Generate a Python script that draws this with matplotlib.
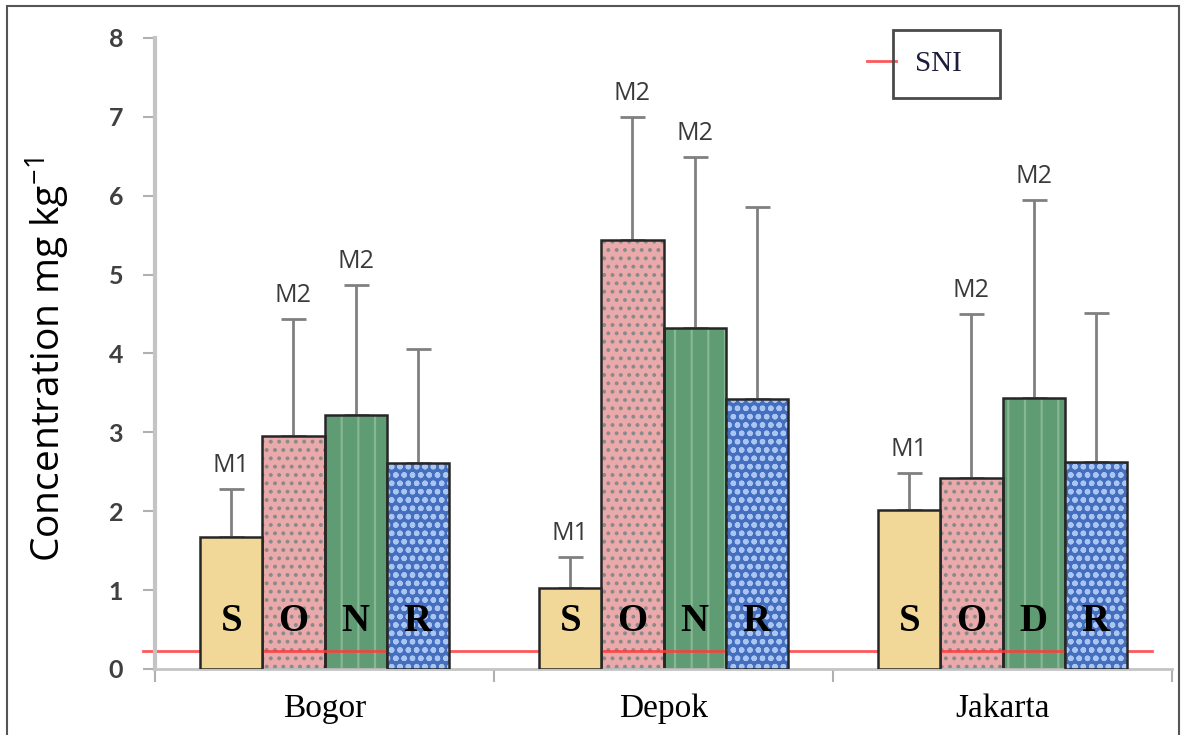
import matplotlib
matplotlib.use("Agg")
import matplotlib.pyplot as plt
import numpy as np
from matplotlib.patches import Rectangle

# Data (mg kg-1)
cities = ["Bogor", "Depok", "Jakarta"]
s_vals = [1.67, 1.03, 2.02]
s_err = [0.61, 0.39, 0.46]
o_vals = [2.95, 5.44, 2.42]
o_err = [1.49, 1.56, 2.08]
n_vals = [3.22, 4.32, 3.43]
n_err = [1.65, 2.17, 2.51]
r_vals = [2.61, 3.42, 2.62]
r_err = [1.45, 2.44, 1.89]
sni_limit = 0.23

# Letters written inside the bars and the labels above the error bars
bar_letters = [["S", "O", "N", "R"], ["S", "O", "N", "R"], ["S", "O", "D", "R"]]
method_labels = ["M1", "M2", "M2", ""]

series = [
    # values, errors, face colour, hatch, hatch colour, zorder
    (s_vals, s_err, "#f1d899", "", "#e3c887", 3),
    (o_vals, o_err, "#eaa9aa", "..", "#8a8a8a", 2),
    (n_vals, n_err, "#5f9b73", "|", "#86b894", 2),
    (r_vals, r_err, "#456fbe", "oo", "#a9c6f2", 3),
]

plt.rcParams["hatch.linewidth"] = 1.6
plt.rcParams["mathtext.fontset"] = "custom"
plt.rcParams["mathtext.rm"] = "Open Sans"
plt.rcParams["mathtext.it"] = "Open Sans"

fig = plt.figure(figsize=(11.86, 7.35), dpi=100)
ax = fig.add_axes([0.1307, 0.0898, 0.8575, 0.8585])

x = np.arange(len(cities))
width = 0.183
offsets = (np.arange(4) - 1.5) * width

for i, (vals, errs, face, hatch, hcolor, z) in enumerate(series):
    pos = x + offsets[i]
    # filled bar with its texture, then a plain outline on top
    ax.bar(pos, vals, width, color=face, hatch=hatch, edgecolor=hcolor, linewidth=0, zorder=z)
    ax.bar(pos, vals, width, fill=False, edgecolor="#262626", linewidth=1.8, zorder=z + 0.1)
    # upper error bars only
    ax.errorbar(pos, vals, yerr=[np.zeros(len(vals)), errs], fmt="none", ecolor="#808080",
                elinewidth=2, capsize=9, capthick=2, zorder=1)
    for j in range(len(cities)):
        ax.text(pos[j], 0.6, bar_letters[j][i], ha="center", va="center",
                fontsize=28, fontweight="bold", family="Liberation Serif", zorder=5)
        if method_labels[i]:
            ax.annotate(method_labels[i], (pos[j], vals[j] + errs[j]), xytext=(0, 8),
                        textcoords="offset points", ha="center", va="bottom",
                        fontsize=18, color="#3a3a3a", family="Open Sans")

# SNI limit line, drawn between the layers of bars
sni_line = ax.axhline(sni_limit, xmin=-0.012, xmax=0.98, color="#ff3b3b", linewidth=2,
                      alpha=0.85, zorder=2.5, clip_on=False)

# Axes styling
ax.set_xlim(-0.5, 2.5)
ax.set_ylim(0, 8)
ax.set_yticks(range(0, 9))
ax.set_xticks(x)
ax.set_xticklabels(cities, family="Liberation Serif", fontsize=24)
ax.set_xticks([-0.5, 0.5, 1.5, 2.5], minor=True)
ax.tick_params(axis="x", which="major", length=0, pad=18)
ax.tick_params(axis="x", which="minor", length=9, width=1.5, color="#b0b0b0")
ax.tick_params(axis="y", length=9, width=1.5, color="#b0b0b0", labelsize=18,
               labelcolor="#404040", pad=14)
for lab in ax.get_yticklabels():
    lab.set_fontweight("bold")
    lab.set_family("Lato")

for side in ["top", "right"]:
    ax.spines[side].set_visible(False)
ax.spines["left"].set_color("#c4c4c4")
ax.spines["left"].set_linewidth(3)
ax.spines["bottom"].set_color("#c4c4c4")
ax.spines["bottom"].set_linewidth(2)

ax.set_ylabel("Concentration mg kg$^{-1}$", fontsize=28, family="Open Sans")
ax.yaxis.set_label_coords(-0.082, 0.49)

# Legend: the red handle sits outside the box
ax.legend([sni_line], ["SNI"], loc="center left", bbox_to_anchor=(0.731, 0.913),
          bbox_transform=fig.transFigure, frameon=False, borderpad=0, borderaxespad=0,
          handlelength=1.0, handletextpad=0.65, prop={"family": "Liberation Serif", "size": 21},
          labelcolor="#1c1c3c")
fig.patches.append(Rectangle((0.753, 0.8667), 0.0902, 0.0925, transform=fig.transFigure,
                             fill=False, edgecolor="#4a4a4a", linewidth=2))

# Outer frame of the picture
fig.patches.append(Rectangle((0.006, -0.05), 0.988, 1.042, transform=fig.transFigure,
                             fill=False, edgecolor="#555555", linewidth=1.5))

fig.savefig("out.png", dpi=100)
